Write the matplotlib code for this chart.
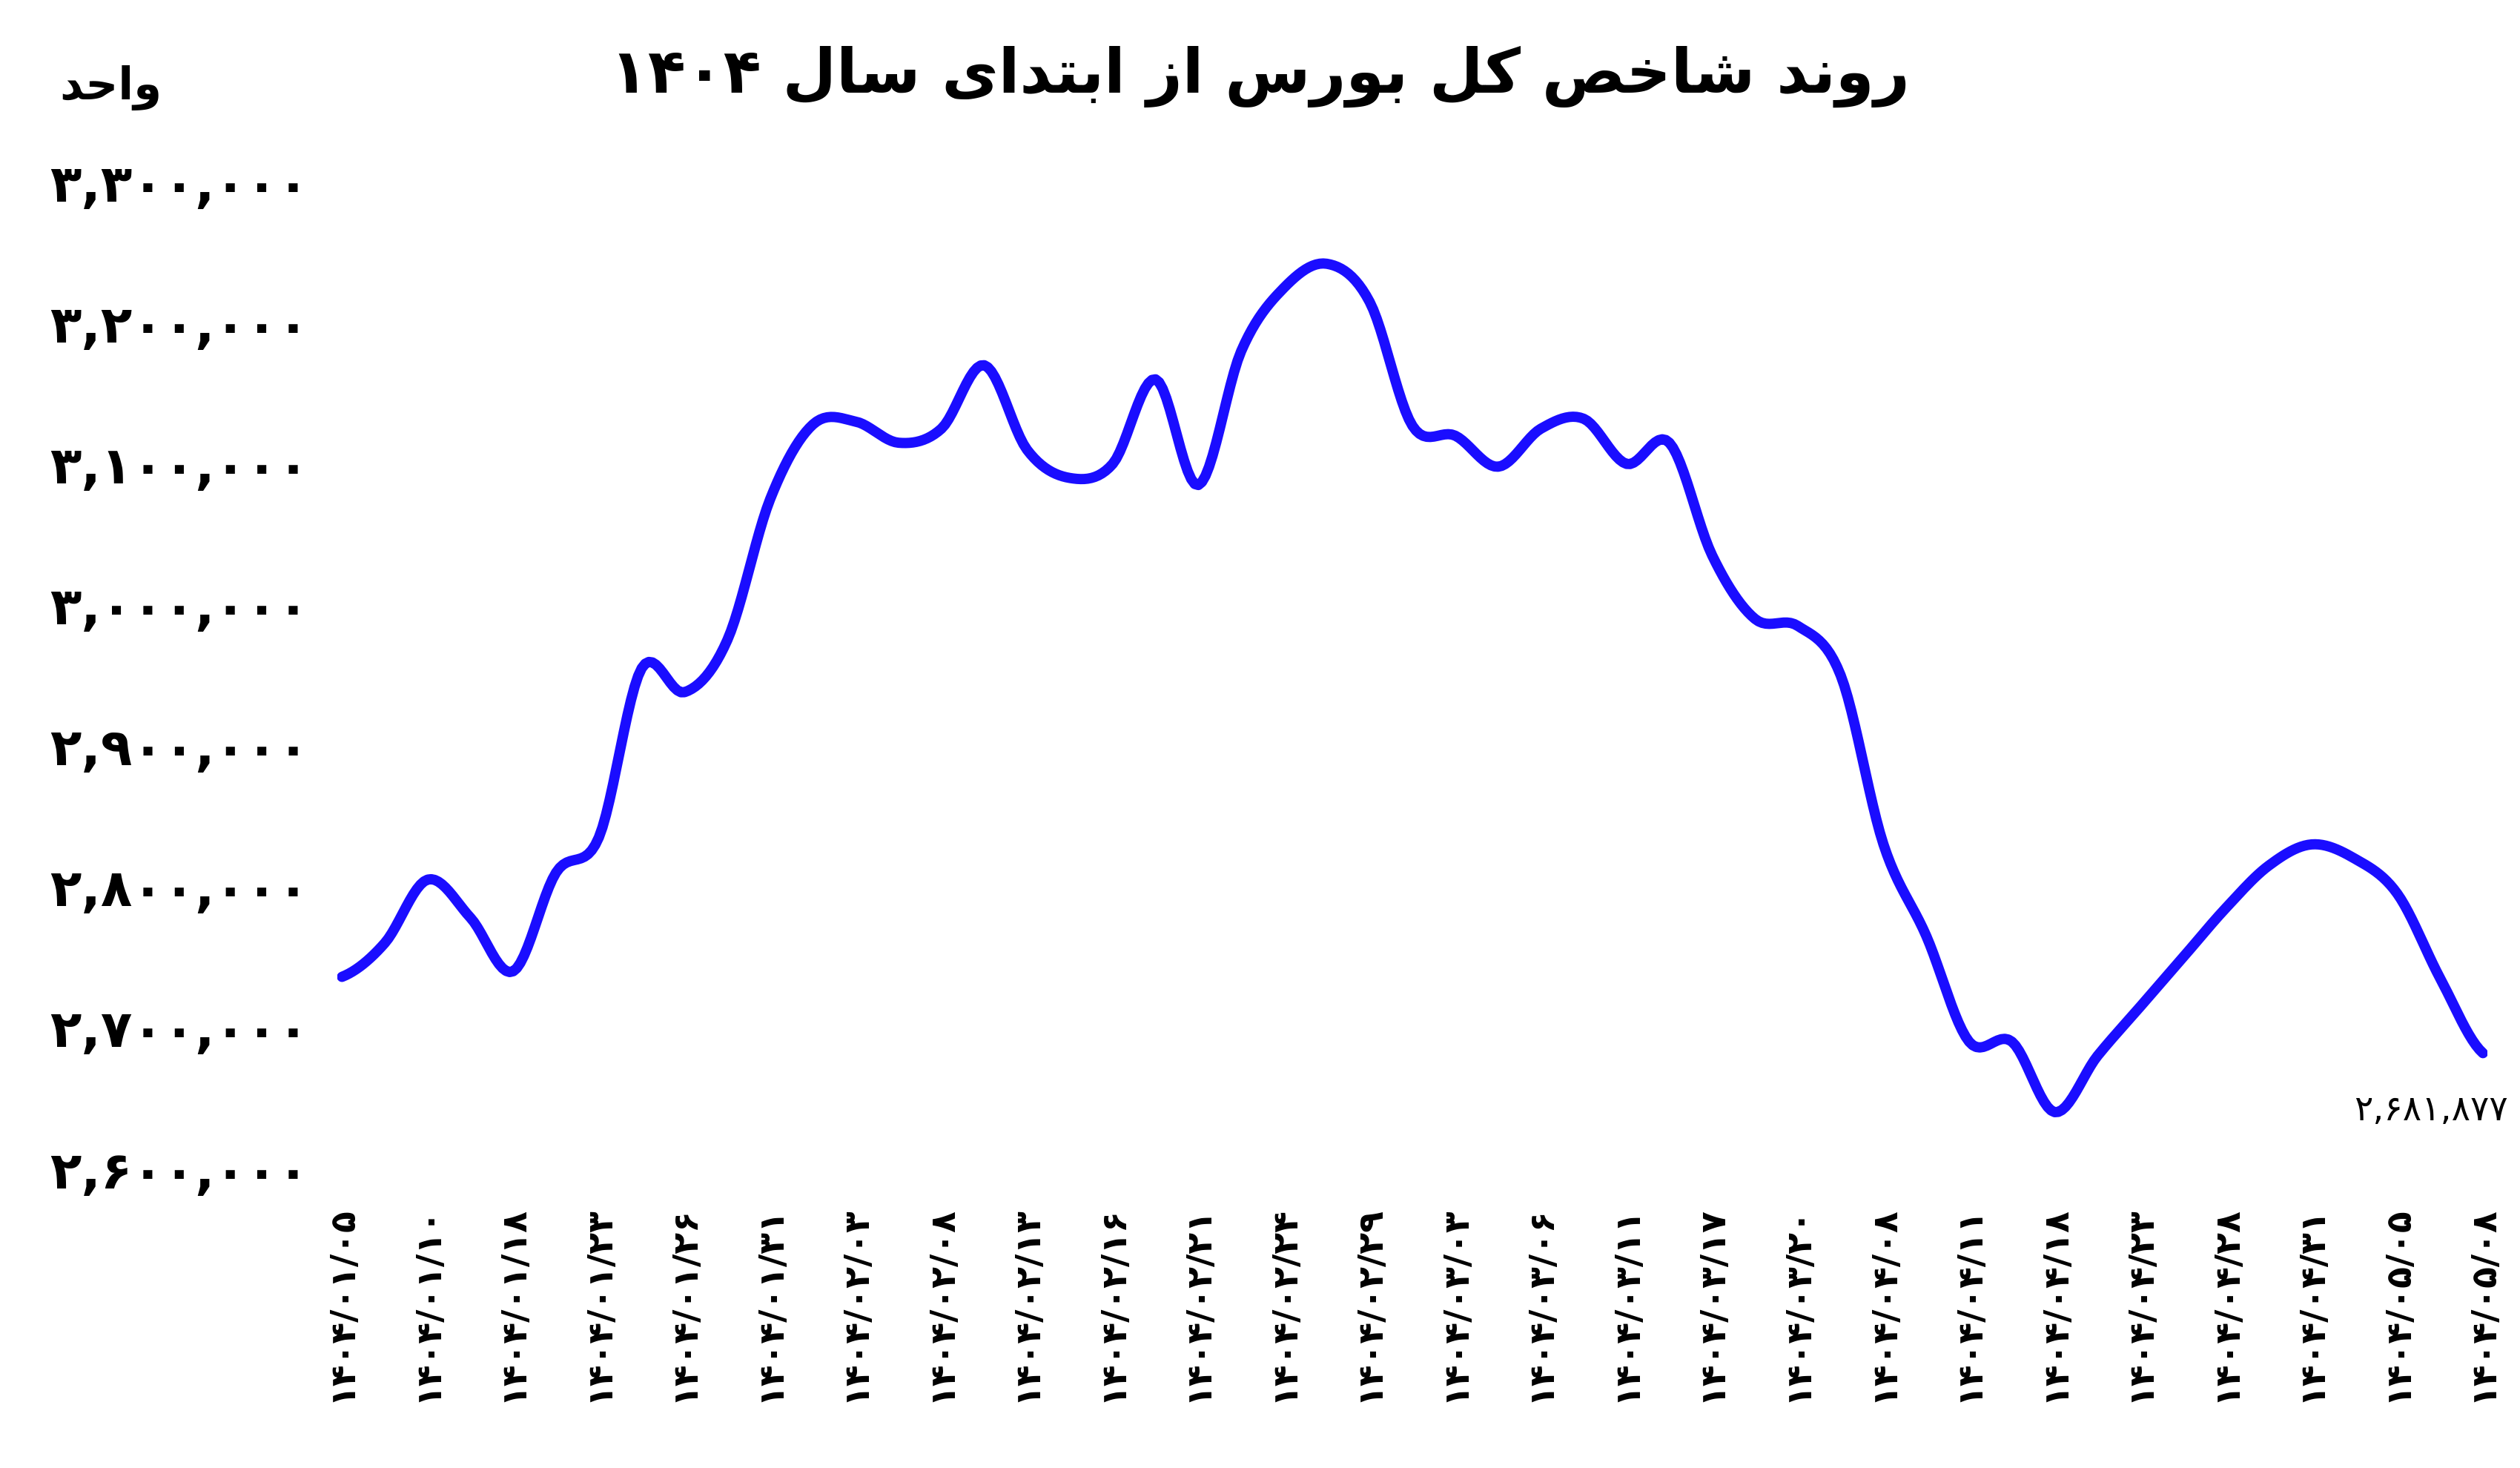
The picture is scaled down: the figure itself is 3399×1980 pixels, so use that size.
import matplotlib
matplotlib.use("Agg")
import matplotlib.pyplot as plt
import numpy as np

dates = ["1404/01/05","1404/01/10","1404/01/18","1404/01/23","1404/01/26","1404/01/31",
         "1404/02/03","1404/02/08","1404/02/13","1404/02/16","1404/02/21","1404/02/24",
         "1404/02/29","1404/03/03","1404/03/06","1404/03/11","1404/03/17","1404/03/20",
         "1404/04/08","1404/04/11","1404/04/18","1404/04/23","1404/04/28","1404/04/31",
         "1404/05/05","1404/05/08"]
values = [2736,2760,2805,2778,2740,2810,2835,2955,2938,2975,3075,3128,3130,3115,3125,3170,
          3110,3090,3100,3160,3085,3180,3225,3242,3215,3127,3120,3098,3125,3132,3100,3115,
          3035,2990,2985,2950,2830,2765,2690,2690,2640,2680,2715,2750,2785,2815,2830,2820,
          2795,2735,2681.877]
values = np.array(values) * 1000
yticks = [2600000,2700000,2800000,2900000,3000000,3100000,3200000,3300000]

FA = str.maketrans("0123456789", "۰۱۲۳۴۵۶۷۸۹")
def fa(s): return s.translate(FA)

plt.rcParams['font.family'] = ['DejaVu Sans']
fig = plt.figure(figsize=(16.995, 9.9), dpi=200)
ax = fig.add_axes([0.134, 0.204, 0.853, 0.672])
x = np.arange(len(values)) * 0.5
xs, ys = [], []
p = np.concatenate([[values[0]], values, [values[-1]]])
for i in range(len(values) - 1):
    t = np.linspace(0, 1, 12, endpoint=False)
    p0, p1, p2, p3 = p[i], p[i+1], p[i+2], p[i+3]
    yy = 0.5*((2*p1) + (-p0+p2)*t + (2*p0-5*p1+4*p2-p3)*t**2 + (-p0+3*p1-3*p2+p3)*t**3)
    xs.extend(x[i] + t*0.5); ys.extend(yy)
xs.append(x[-1]); ys.append(values[-1])
ax.plot(xs, ys, color="#1a0dff", lw=5, solid_capstyle="round")
ax.set_ylim(2600000, 3300000)
ax.set_xlim(-0.05, 25.05)
ax.set_yticks(yticks)
ax.set_yticklabels([fa(f"{v:,}") for v in yticks], fontsize=25, fontweight="bold")
ax.set_xticks(range(len(dates)))
ax.set_xticklabels([fa(d) for d in dates], rotation=90, fontsize=17, fontweight="bold")
ax.tick_params(length=0, pad=14)
ax.tick_params(axis="x", pad=18)
for s in ax.spines.values(): s.set_visible(False)
ax.annotate(fa("2,681,877"), (x[-1], values[-1]), xytext=(12, -20), textcoords="offset points",
            ha="right", va="top", fontsize=17)

title = ("۱۴۰۴ " + "\uFEDD\uFE8E\uFEB3" + " " + "\uFBFC\uFE8D\uFEAA\uFE98\uFE91\uFE8D" + " "
         + "\uFEAF\uFE8D" + " " + "\uFEB1\uFEAD\uFEEE\uFE91" + " " + "\uFEDE\uFB90" + " "
         + "\uFEBA\uFEA7\uFE8E\uFEB7" + " " + "\uFEAA\uFEA3\uFE8D\uFEED"[0:0] + "\uFEAA\uFEE7\uFEED\uFEAD")
fig.text(0.5, 0.948, title, ha="center", va="center", fontsize=30, fontweight="bold")
fig.text(0.044, 0.94, "\uFEAA\uFEA3\uFE8D\uFEED", ha="center", va="center", fontsize=22, fontweight="bold")
fig.savefig("out.png", dpi=200, facecolor="white")
